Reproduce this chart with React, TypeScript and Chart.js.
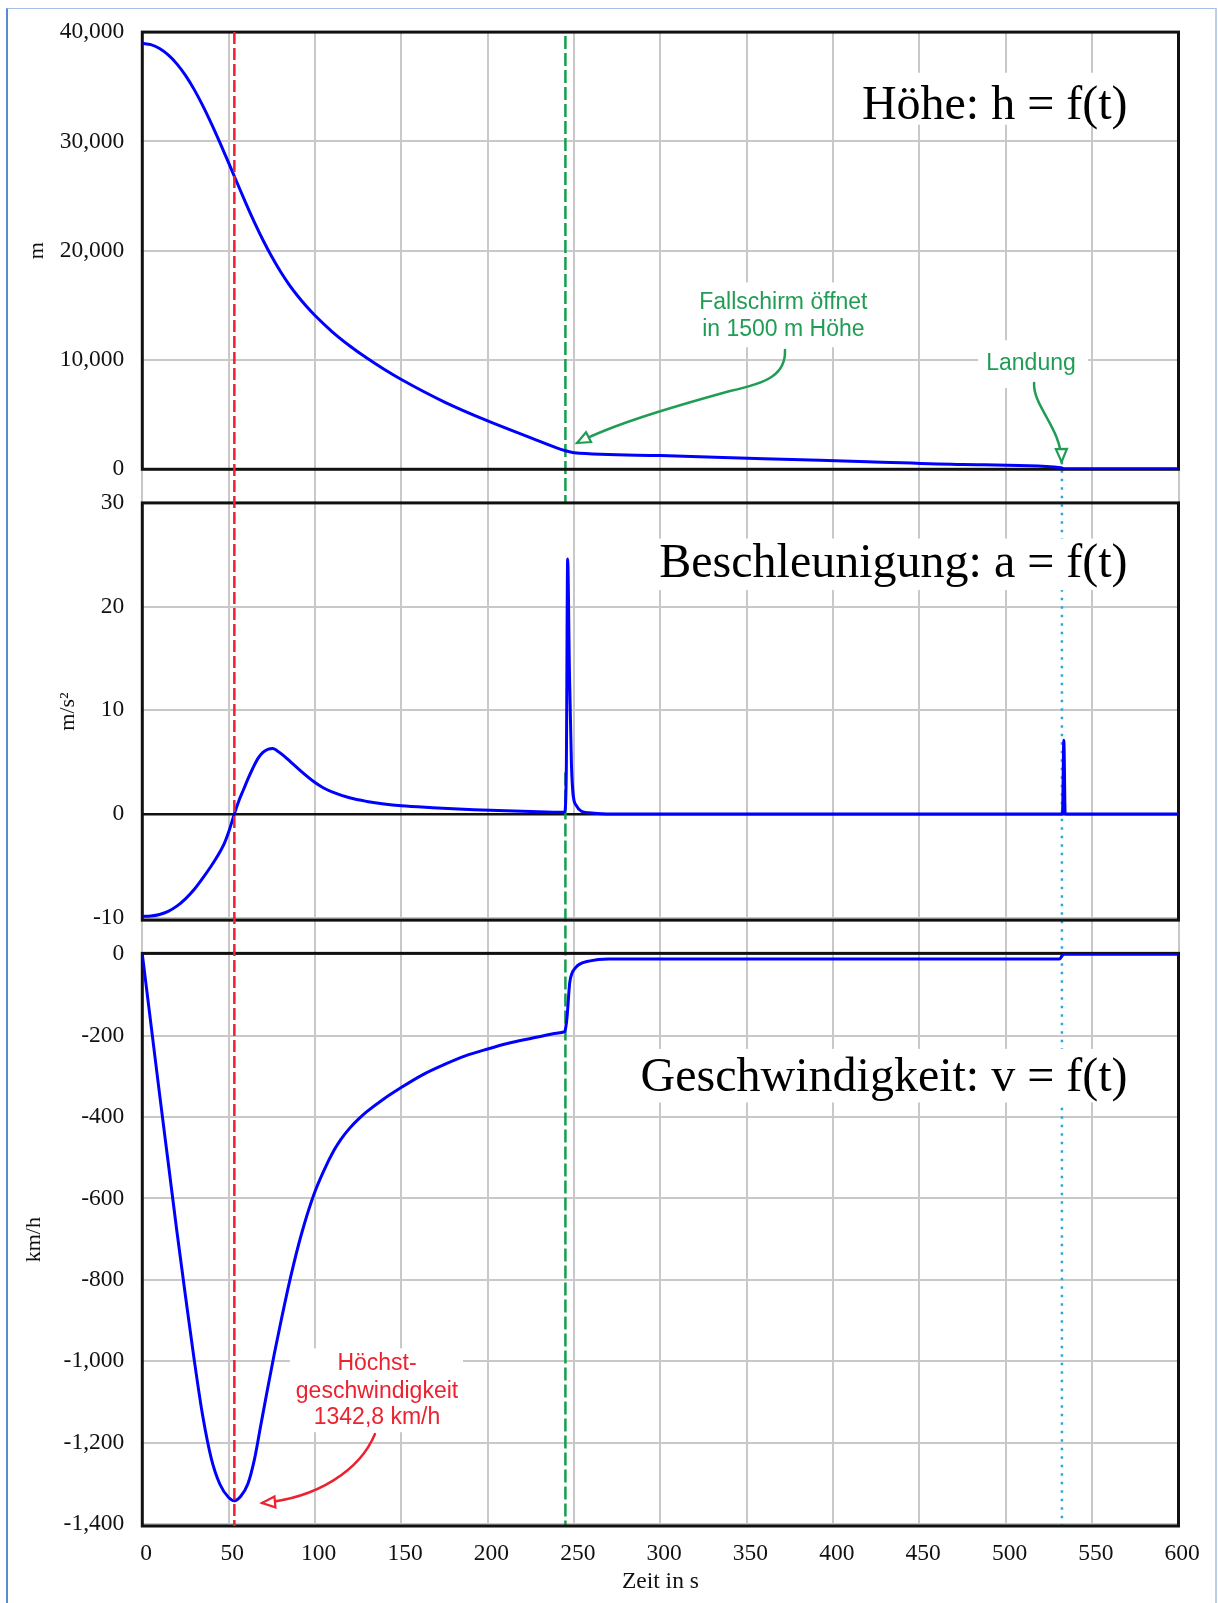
import React, { useEffect, useRef } from "react";
import { Chart, registerables } from "chart.js";

Chart.register(...registerables);

// ---------------- data ----------------
const timeTicks = [0, 50, 100, 150, 200, 250, 300, 350, 400, 450, 500, 550, 600];
const heightTicks = [0, 10000, 20000, 30000, 40000];
const accelTicks = [-10, 0, 10, 20, 30];
const speedTicks = [-1400, -1200, -1000, -800, -600, -400, -200, 0];

const timeH = [0, 5, 10, 15, 20, 25, 30, 35, 40, 45, 50, 55, 60, 65, 70, 75, 80, 85, 90, 95, 100, 110, 120, 130, 140, 150, 175, 200, 225, 245, 250, 300, 360, 420, 475, 532, 534, 600];
const heightM = [38970, 38851, 38492, 37906, 37094, 36042, 34760, 33273, 31621, 29859, 28029, 26172, 24332, 22567, 20932, 19440, 18095, 16903, 15851, 14914, 14067, 12582, 11307, 10177, 9152, 8212, 6150, 4425, 2880, 1690, 1510, 1260, 960, 700, 440, 150, 40, 40];

const timeA = [0, 5, 10, 15, 20, 25, 30, 35, 40, 42.5, 45, 47.5, 50, 53.3, 56, 58.5, 61, 64, 67, 70, 73, 75.5, 78, 82, 86, 92, 99.4, 105, 111, 120, 130, 140, 150, 168, 192, 225, 244.5, 245.5, 246.3, 247.3, 248.5, 250.9, 258.5, 269, 532.8, 533.6, 534.4, 600];
const accel = [-9.9, -9.85, -9.7, -9.4, -8.9, -8.2, -7.3, -6.2, -5.0, -4.35, -3.65, -2.85, -1.75, 0, 1.3, 2.3, 3.3, 4.4, 5.35, 5.95, 6.25, 6.3, 6.1, 5.6, 5.0, 4.1, 3.1, 2.5, 2.05, 1.55, 1.2, 0.95, 0.78, 0.6, 0.4, 0.22, 0.15, 4, 24.6, 14, 4.7, 0.9, 0.1, 0, 0, 7.1, 0, 0];

const timeV = [0, 5, 10, 15, 20, 25, 30, 35, 40, 45, 50, 53.3, 57, 61.1, 65, 68.5, 72, 76.3, 80, 85.9, 92, 99.4, 105, 111, 115, 120, 125, 130, 140, 149, 162, 175, 187, 200, 212, 225, 235, 240, 244.5, 245.2, 246, 247.5, 249, 250.9, 253, 258.5, 270, 531, 533.5, 600];
const speedKmh = [0, -172, -344, -512, -680, -840, -995, -1135, -1240, -1303, -1335, -1342.8, -1332, -1302, -1240, -1160, -1080, -985, -908, -793, -690, -590, -533, -482, -455, -428, -406, -387, -355, -330, -297, -271, -250, -233, -219, -207, -198, -194, -190.4, -180, -152, -70, -45, -33, -25, -17, -12, -12, 0, 0];

const MAX_SPEED_T = 53.3;
const CHUTE_T = 245;
const LANDING_T = 532.5;

const panelTitles = ["Höhe: h = f(t)", "Beschleunigung: a = f(t)", "Geschwindigkeit: v = f(t)"];
const axisUnits = ["m", "m/s²", "km/h"];
const chuteNote = ["Fallschirm öffnet", "in 1500 m Höhe"];
const landingNote = ["Landung"];
const maxSpeedNote = ["Höchst-", "geschwindigkeit", "1342,8 km/h"];

// ---------------- styles ----------------
const SERIF = "'Liberation Serif', 'Times New Roman', serif";
const SANS = "'Liberation Sans', Arial, sans-serif";
const GRID = "#c8c8c8";
const BLUE = "#0000ff";
const RED = "#ec2230";
const GREEN_TXT = "#1f9d55";
const GREEN_LINE = "#12a04c";
const CYAN = "#2aa6e0";

Chart.defaults.font.family = SERIF;
Chart.defaults.color = "#111";

const fmt = (v: any) => Number(v).toLocaleString("en-US");

function yAxis(opts: any) {
  const { weight, stackWeight, min, max, ticks, unit, titlePad, zeroLine } = opts;
  return {
    type: "linear",
    position: "left",
    stack: "panels",
    weight,
    stackWeight,
    min,
    max,
    afterBuildTicks: (s: any) => {
      s.ticks = ticks.map((v: number) => ({ value: v }));
    },
    afterFit: (s: any) => {
      s.width = 142.3;
    },
    ticks: { font: { size: 23.5 }, padding: 18, callback: fmt, color: "#111" },
    grid: {
      drawTicks: false,
      color: (c: any) => (zeroLine && c.tick && c.tick.value === 0 ? "#111" : GRID),
      lineWidth: (c: any) => (zeroLine && c.tick && c.tick.value === 0 ? 2.5 : 2),
    },
    border: { display: false },
    title: { display: true, text: unit, font: { size: 22 }, padding: { top: titlePad, bottom: 0 }, color: "#111" },
  };
}

function gapAxis(weight: number, stackWeight: number) {
  return {
    type: "linear",
    position: "left",
    stack: "panels",
    weight,
    stackWeight,
    min: 0,
    max: 1,
    afterFit: (s: any) => {
      s.width = 142.3;
    },
    ticks: { display: false },
    grid: { display: false },
    border: { display: false },
    title: { display: false },
  };
}

// annotation specs (data coordinates)
const labelBoxes = [
  { scale: "yH", t0: 411, t1: 578, v0: 36280, v1: 31530 },
  { scale: "yA", t0: 297, t1: 578, v0: 26.56, v1: 21.59 },
  { scale: "yV", t0: 289.7, t1: 578, v0: -232.7, v1: -364.4 },
  { scale: "yH", t0: 316, t1: 427, v0: 17100, v1: 11170 },
  { scale: "yH", t0: 484, t1: 547.6, v0: 11800, v1: 7430 },
  { scale: "yV", t0: 85.5, t1: 185.7, v0: -968.5, v1: -1174.5 },
];

function drawArrow(ctx: CanvasRenderingContext2D, tip: { x: number; y: number }, segs: number[][], color: string) {
  ctx.save();
  ctx.strokeStyle = color;
  ctx.lineWidth = 2.5;
  ctx.lineCap = "round";
  ctx.setLineDash([]);
  ctx.beginPath();
  const [sx, sy] = segs[0];
  ctx.moveTo(tip.x + sx, tip.y + sy);
  let lastC = { x: tip.x + sx, y: tip.y + sy };
  for (let i = 1; i < segs.length; i++) {
    const [c1x, c1y, c2x, c2y, ex, ey] = segs[i];
    ctx.bezierCurveTo(tip.x + c1x, tip.y + c1y, tip.x + c2x, tip.y + c2y, tip.x + ex, tip.y + ey);
    lastC = { x: tip.x + c2x, y: tip.y + c2y };
  }
  ctx.stroke();
  const ang = Math.atan2(tip.y - lastC.y, tip.x - lastC.x);
  const L = 13;
  const W = 5.5;
  const bx = tip.x - L * Math.cos(ang);
  const by = tip.y - L * Math.sin(ang);
  ctx.beginPath();
  ctx.moveTo(tip.x, tip.y);
  ctx.lineTo(bx + W * Math.sin(ang), by - W * Math.cos(ang));
  ctx.lineTo(bx - W * Math.sin(ang), by + W * Math.cos(ang));
  ctx.closePath();
  ctx.fillStyle = "#fff";
  ctx.fill();
  ctx.lineWidth = 2.2;
  ctx.lineJoin = "miter";
  ctx.stroke();
  ctx.restore();
}

const overlayPlugin = {
  id: "overlay",
  beforeDatasetsDraw(chart: any) {
    const { ctx, chartArea: ca, scales: s } = chart;
    const X = (t: number) => s.x.getPixelForValue(t);
    ctx.save();
    const vline = (x: number, y0: number, y1: number, color: string, dash: number[], w: number) => {
      ctx.beginPath();
      ctx.setLineDash(dash);
      ctx.strokeStyle = color;
      ctx.lineWidth = w;
      ctx.lineCap = "butt";
      ctx.moveTo(x, y0);
      ctx.lineTo(x, y1);
      ctx.stroke();
    };
    const gx = X(CHUTE_T);
    vline(gx, ca.top + 4, s.yA.top, GREEN_LINE, [13, 4], 2.5);
    vline(gx, s.yA.getPixelForValue(4), ca.bottom, GREEN_LINE, [13, 4], 2.5);
    vline(X(LANDING_T), s.yH.getPixelForValue(700), ca.bottom, CYAN, [2.5, 6], 2.5);
    ctx.setLineDash([]);

    ctx.fillStyle = "#fff";
    for (const b of labelBoxes) {
      const sc = s[b.scale];
      const xa = X(b.t0);
      const xb = X(b.t1);
      const ya = sc.getPixelForValue(b.v0);
      const yb = sc.getPixelForValue(b.v1);
      ctx.fillRect(Math.min(xa, xb), Math.min(ya, yb), Math.abs(xb - xa), Math.abs(yb - ya));
    }

    ctx.strokeStyle = "#111";
    ctx.lineWidth = 3;
    for (const id of ["yH", "yA", "yV"]) {
      const sc = s[id];
      ctx.strokeRect(ca.left, sc.top, ca.right - ca.left, sc.bottom - sc.top);
    }
    ctx.restore();
  },
  afterDatasetsDraw(chart: any) {
    const { ctx, chartArea: ca, scales: s } = chart;
    const X = (t: number) => s.x.getPixelForValue(t);
    ctx.save();
    ctx.beginPath();
    ctx.setLineDash([12, 4]);
    ctx.strokeStyle = RED;
    ctx.lineWidth = 2.5;
    const rx = X(MAX_SPEED_T);
    ctx.moveTo(rx, ca.top);
    ctx.lineTo(rx, ca.bottom);
    ctx.stroke();
    ctx.setLineDash([]);

    ctx.font = `48px ${SERIF}`;
    ctx.fillStyle = "#000";
    ctx.textAlign = "right";
    ctx.textBaseline = "alphabetic";
    ctx.fillText(panelTitles[0], X(570.5), s.yH.getPixelForValue(32018));
    ctx.fillText(panelTitles[1], X(570.5), s.yA.getPixelForValue(22.81));
    ctx.fillText(panelTitles[2], X(570.5), s.yV.getPixelForValue(-335));

    ctx.font = `23px ${SANS}`;
    ctx.textAlign = "center";
    ctx.textBaseline = "middle";
    ctx.fillStyle = GREEN_TXT;
    ctx.fillText(chuteNote[0], X(371.2), s.yH.getPixelForValue(15279));
    ctx.fillText(chuteNote[1], X(371.2), s.yH.getPixelForValue(12785));
    ctx.fillText(landingNote[0], X(514.6), s.yH.getPixelForValue(9635));
    ctx.fillStyle = RED;
    ctx.fillText(maxSpeedNote[0], X(135.9), s.yV.getPixelForValue(-1006.5));
    ctx.fillText(maxSpeedNote[1], X(135.9), s.yV.getPixelForValue(-1073.9));
    ctx.fillText(maxSpeedNote[2], X(135.9), s.yV.getPixelForValue(-1137.7));

    drawArrow(
      ctx,
      { x: X(251.7), y: s.yH.getPixelForValue(2402) },
      [
        [208, -93],
        [209, -69, 191, -60, 153, -52],
        [88, -34, 35, -18, 0, 0],
      ],
      GREEN_TXT
    );
    drawArrow(
      ctx,
      { x: X(532.3), y: s.yH.getPixelForValue(667) },
      [
        [-27.5, -79],
        [-28.5, -55, -0.5, -35, 0, 0],
      ],
      GREEN_TXT
    );
    drawArrow(
      ctx,
      { x: X(69.3), y: s.yV.getPixelForValue(-1348.6) },
      [
        [113, -69],
        [98, -33, 56, -5, 0, 0],
      ],
      RED
    );
    ctx.restore();
  },
};

const lineStyle = {
  borderColor: BLUE,
  borderWidth: 3,
  pointRadius: 0,
  fill: false,
  cubicInterpolationMode: "monotone",
  borderJoinStyle: "round",
};

export default function App() {
  const ref = useRef<HTMLCanvasElement>(null);
  useEffect(() => {
    if (!ref.current) return;
    const chart = new Chart(ref.current, {
      type: "line",
      data: {
        datasets: [
          { ...lineStyle, label: "h", yAxisID: "yH", data: timeH.map((t, i) => ({ x: t, y: heightM[i] })) },
          { ...lineStyle, label: "a", yAxisID: "yA", data: timeA.map((t, i) => ({ x: t, y: accel[i] })) },
          { ...lineStyle, label: "v", yAxisID: "yV", data: timeV.map((t, i) => ({ x: t, y: speedKmh[i] })) },
        ],
      } as any,
      options: {
        responsive: false,
        animation: false,
        devicePixelRatio: 1,
        layout: { padding: { left: 0, right: 39.5, top: 29.3, bottom: 0 } },
        plugins: { legend: { display: false }, title: { display: false }, tooltip: { enabled: false } },
        scales: {
          x: {
            type: "linear",
            position: "bottom",
            min: 0,
            max: 600,
            afterBuildTicks: (sc: any) => {
              sc.ticks = timeTicks.map((v) => ({ value: v }));
            },
            afterFit: (sc: any) => {
              sc.height = 77;
            },
            ticks: { font: { size: 23.5 }, padding: 13.9, labelOffset: 3.7, maxRotation: 0, autoSkip: false, color: "#111", callback: (v: any) => String(v) },
            grid: { color: GRID, lineWidth: 2, drawTicks: false },
            border: { display: false },
            title: { display: true, text: "Zeit in s", font: { size: 23.5 }, padding: { top: 0, bottom: 7.2 }, color: "#111" },
          },
          yV: yAxis({ weight: 1, stackWeight: 573.7, min: -1405, max: 2, ticks: speedTicks, unit: axisUnits[2], titlePad: 21.4, zeroLine: false }),
          gap2: gapAxis(2, 33.3),
          yA: yAxis({ weight: 3, stackWeight: 418, min: -10.25, max: 30, ticks: accelTicks, unit: axisUnits[1], titlePad: 54.8, zeroLine: true }),
          gap1: gapAxis(4, 33.7),
          yH: yAxis({ weight: 5, stackWeight: 438, min: 0, max: 40000, ticks: heightTicks, unit: axisUnits[0], titlePad: 24.3, zeroLine: false }),
        } as any,
      },
      plugins: [overlayPlugin as any],
    });
    return () => chart.destroy();
  }, []);

  return (
    <div style={{ position: "absolute", left: 0, top: 0, width: 1218, height: 1603, background: "#fff", overflow: "hidden" }}>
      <div
        style={{
          position: "absolute",
          left: 6,
          top: 8,
          width: 1211,
          height: 1600,
          boxSizing: "border-box",
          borderLeft: "2px solid #5a8bd2",
          borderTop: "1.5px solid #a4c0e6",
          borderRight: "2px solid #b9cfec",
        }}
      />
      <canvas ref={ref} width={1218} height={1603} style={{ position: "absolute", left: 0, top: 0, width: 1218, height: 1603 }} />
    </div>
  );
}
